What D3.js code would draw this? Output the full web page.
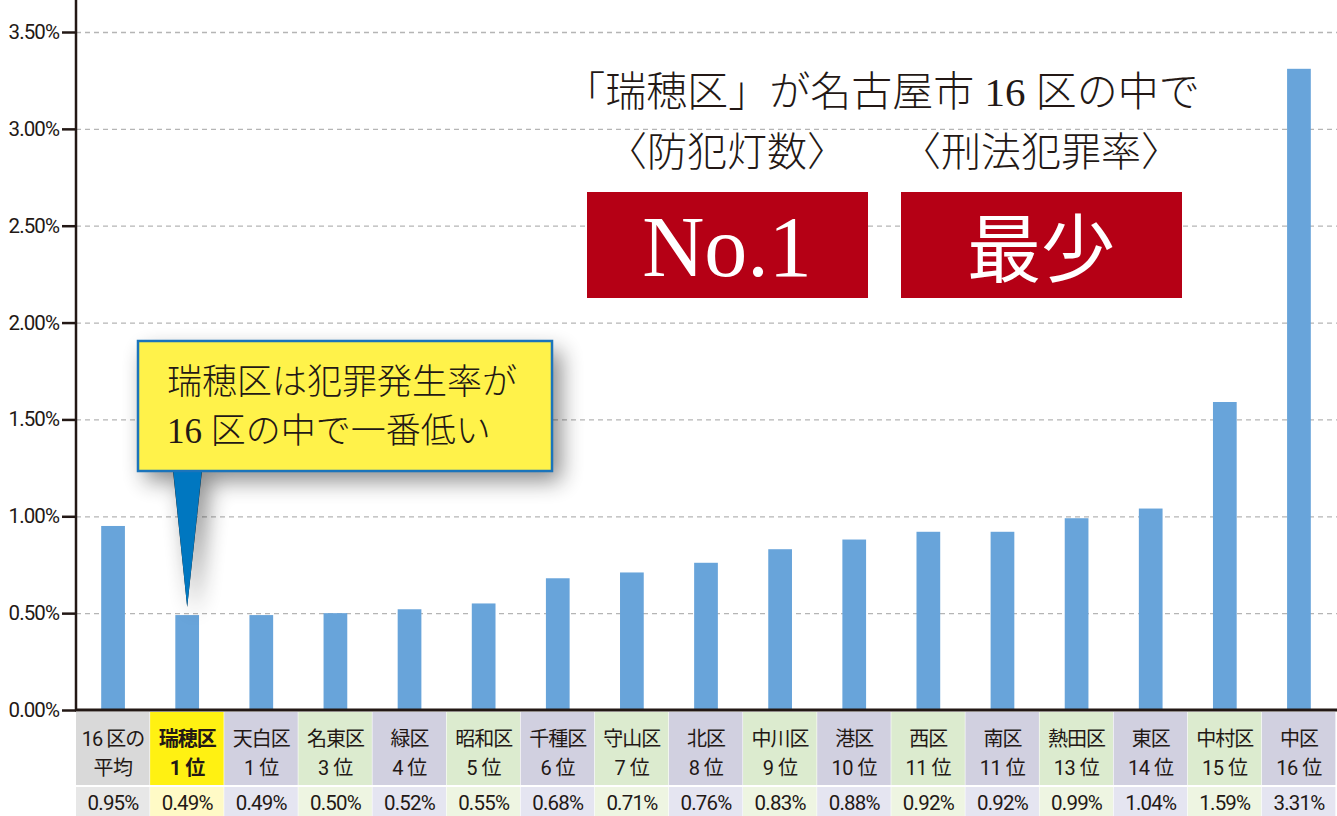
<!DOCTYPE html>
<html>
<head>
<meta charset="utf-8">
<script src="https://cdn.jsdelivr.net/npm/d3@7"></script>
<style>
  body { margin: 0; background: #fff; }
  svg { display: block; }
  .sans { font-family: Roboto, "Noto Sans CJK JP", sans-serif; }
  .serif { font-family: "Liberation Serif", "DejaVu Serif", "Noto Sans CJK JP", serif; }
</style>
</head>
<body>
<svg class="chart"></svg>
<script>
// data
var wards = ['16 区の', '瑞穂区', '天白区', '名東区', '緑区', '昭和区', '千種区', '守山区',
             '北区', '中川区', '港区', '西区', '南区', '熱田区', '東区', '中村区', '中区'];
var ranks = ['平均', '1 位', '1 位', '3 位', '4 位', '5 位', '6 位', '7 位',
             '8 位', '9 位', '10 位', '11 位', '11 位', '13 位', '14 位', '15 位', '16 位'];
var rates = [0.95, 0.49, 0.49, 0.50, 0.52, 0.55, 0.68, 0.71,
             0.76, 0.83, 0.88, 0.92, 0.92, 0.99, 1.04, 1.59, 3.31];
var yTicks = [0, 0.5, 1, 1.5, 2, 2.5, 3, 3.5];

var titleLine = '「瑞穂区」が名古屋市 16 区の中で';
var badgeHeads = ['〈防犯灯数〉', '〈刑法犯罪率〉'];
var badgeTexts = ['No.1', '最少'];
var calloutLines = ['瑞穂区は犯罪発生率が', '16 区の中で一番低い'];

var config = {
    width: 1337, height: 816,
    left: 76, right: 1336, top: 32, bottom: 710
};

var nameFill = ['#d9d9d9', '#fff112', '#d1d0e0', '#dcebcf'];
var valueFill = ['#e7e7e7', '#fffac6', '#e5e5f1', '#eef5e2'];
function cellKind(i) {
    if (i === 0) return 0;
    if (i === 1) return 1;
    return i % 2 === 0 ? 2 : 3;
}

var chart = d3.select('.chart')
    .attr('width', config.width)
    .attr('height', config.height);

var defs = chart.append('defs');
var shadow = defs.append('filter').attr('id', 'shadow')
    .attr('x', '-30%').attr('y', '-30%').attr('width', '170%').attr('height', '180%');
shadow.append('feDropShadow')
    .attr('dx', 8).attr('dy', 10).attr('stdDeviation', 11)
    .attr('flood-color', '#000').attr('flood-opacity', 0.5);

var x = d3.scaleBand().domain(wards).range([config.left, config.right]);
var xBar = d3.scaleBand().domain(wards).range([config.left, config.right])
    .paddingInner(0.68).paddingOuter(0.34);
var y = d3.scaleLinear().domain([0, 3.5]).range([config.bottom, config.top]);

// grid
chart.append('g')
    .attr('transform', 'translate(' + config.left + ',0)')
    .call(d3.axisLeft(y).tickValues(yTicks.slice(1)).tickSize(-(config.width - config.left)).tickFormat(''))
    .call(function(g) {
        g.select('.domain').remove();
        g.selectAll('line').attr('stroke', '#b5b5b5').attr('stroke-width', 1.3)
            .attr('stroke-dasharray', '5,4');
    });

// bars
chart.append('g').selectAll('rect')
    .data(rates)
    .enter().append('rect')
    .attr('x', function(d, i) { return xBar(wards[i]); })
    .attr('y', function(d) { return y(d); })
    .attr('width', xBar.bandwidth())
    .attr('height', function(d) { return y(0) - y(d); })
    .attr('fill', '#68a4da');

// y axis
chart.append('g')
    .attr('class', 'sans')
    .attr('transform', 'translate(' + config.left + ',0)')
    .call(d3.axisLeft(y).tickValues(yTicks).tickSize(14).tickPadding(3)
        .tickFormat(function(d) { return d.toFixed(2) + '%'; }))
    .call(function(g) {
        g.select('.domain').remove();
        g.selectAll('line').attr('stroke', '#231815').attr('stroke-width', 2.5);
        g.selectAll('text').attr('font-size', 20.5).attr('fill', '#231815')
            .attr('font-family', 'Roboto, sans-serif').attr('letter-spacing', '-0.9');
    });

chart.append('line')
    .attr('x1', config.left).attr('x2', config.left)
    .attr('y1', 0).attr('y2', config.bottom + 1)
    .attr('stroke', '#231815').attr('stroke-width', 2.5);
chart.append('line')
    .attr('x1', config.left - 1).attr('x2', config.width)
    .attr('y1', config.bottom).attr('y2', config.bottom)
    .attr('stroke', '#231815').attr('stroke-width', 3);

// category table
var cells = chart.append('g').attr('class', 'sans').selectAll('g')
    .data(wards)
    .enter().append('g')
    .attr('transform', function(d) { return 'translate(' + x(d) + ',0)'; });

cells.append('rect')
    .attr('x', 0).attr('y', 712)
    .attr('width', x.bandwidth() - 0.6).attr('height', 73)
    .attr('fill', function(d, i) { return nameFill[cellKind(i)]; });
cells.append('rect')
    .attr('x', 0).attr('y', 787)
    .attr('width', x.bandwidth() - 0.6).attr('height', 29)
    .attr('fill', function(d, i) { return valueFill[cellKind(i)]; });

cells.append('text')
    .attr('x', x.bandwidth() / 2).attr('y', 746)
    .attr('text-anchor', 'middle').attr('font-size', 20)
    .attr('letter-spacing', '-1')
    .attr('font-weight', function(d, i) { return i === 1 ? 700 : 400; })
    .attr('fill', '#231815')
    .text(function(d) { return d; });
cells.append('text')
    .attr('x', x.bandwidth() / 2).attr('y', 775)
    .attr('text-anchor', 'middle').attr('font-size', 20)
    .attr('letter-spacing', '-0.5')
    .attr('font-weight', function(d, i) { return i === 1 ? 700 : 400; })
    .attr('fill', '#231815')
    .text(function(d, i) { return ranks[i]; });
cells.append('text')
    .attr('x', x.bandwidth() / 2).attr('y', 810)
    .attr('text-anchor', 'middle').attr('font-size', 20.5)
    .attr('letter-spacing', '-0.8')
    .attr('fill', '#231815')
    .text(function(d, i) { return rates[i].toFixed(2) + '%'; });

// title + badges
var head = chart.append('g').attr('class', 'serif');
head.append('text')
    .attr('x', 882).attr('y', 106)
    .attr('text-anchor', 'middle').attr('font-size', 41)
    .attr('font-weight', 300).attr('fill', '#231815')
    .text(titleLine);

var badgeX = [587, 901];
badgeHeads.forEach(function(t, i) {
    head.append('text')
        .attr('x', badgeX[i] + 140).attr('y', 166)
        .attr('text-anchor', 'middle').attr('font-size', 40)
        .attr('font-weight', 300).attr('fill', '#231815')
        .text(t);
    head.append('rect')
        .attr('x', badgeX[i]).attr('y', 192)
        .attr('width', 281).attr('height', 106)
        .attr('fill', '#b50015');
    head.append('text')
        .attr('x', badgeX[i] + 140).attr('y', 276)
        .attr('text-anchor', 'middle')
        .attr('font-size', i === 0 ? 86 : 74)
        .attr('fill', '#fff')
        .text(badgeTexts[i]);
});

// callout
var callout = chart.append('g');
var tipX = xBar(wards[1]) + xBar.bandwidth() / 2;
var tipY = y(rates[1]) - 8;
callout.append('path')
    .attr('d', 'M137,341 H553 V471 H202 L' + tipX + ',' + tipY + ' L173,471 H137 Z')
    .attr('fill', '#000').attr('filter', 'url(#shadow)').attr('opacity', 0.9);
callout.append('path')
    .attr('d', 'M173,469 L202,469 L' + tipX + ',' + tipY + ' Z')
    .attr('fill', '#0077c0');
callout.append('rect')
    .attr('x', 138).attr('y', 341)
    .attr('width', 414).attr('height', 130)
    .attr('fill', '#fff24a').attr('stroke', '#1b74bb').attr('stroke-width', 2.5);
callout.selectAll('text.call')
    .data(calloutLines)
    .enter().append('text')
    .attr('class', 'call serif')
    .attr('x', 167).attr('y', function(d, i) { return 394 + i * 49; })
    .attr('font-size', 35).attr('font-weight', 300).attr('fill', '#231815')
    .text(function(d) { return d; });
</script>
</body>
</html>
